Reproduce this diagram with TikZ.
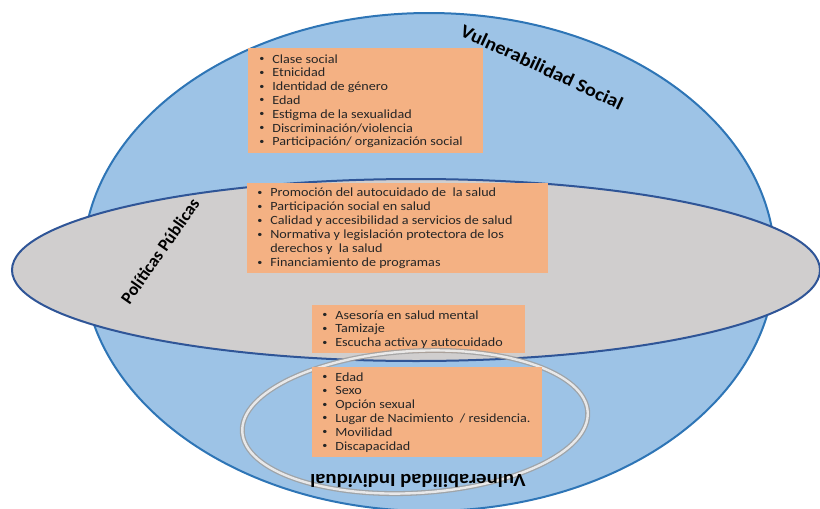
\documentclass[tikz,border=0pt]{standalone}
\usepackage{fontspec}
\setmainfont{Carlito}
\usepackage{graphicx}
\usetikzlibrary{shapes.geometric}
\definecolor{blueF}{HTML}{9DC3E6}
\definecolor{blueD}{HTML}{2E75B6}
\definecolor{grayF}{HTML}{D0CECE}
\definecolor{navyD}{HTML}{2F5597}
\definecolor{orangeF}{HTML}{F4B183}
\definecolor{txt}{HTML}{262626}
\newcommand\bdot{\makebox[12.5pt][l]{\hspace{1pt}\raisebox{0.25ex}{\fontsize{9}{9}\selectfont\textbullet}}}
\newcommand\bitem[1]{\hbox{\bdot#1}}
\newcommand\bcont[1]{\hbox{\makebox[12.5pt][l]{}#1}}
\newcommand\blist[1]{\scalebox{1.13}[1]{\vtop{#1}}}
\tikzset{
  ell/.style={ellipse, inner sep=0pt},
  obox/.style={fill=orangeF, draw=none, inner sep=0pt},
  btext/.style={anchor=base west, inner sep=0pt, text=txt, font=\fontsize{12.5}{13.8}\selectfont},
  title/.style={inner sep=0pt, text=black, font=\bfseries\fontsize{18.5}{20}\selectfont},
}
\begin{document}
\begin{tikzpicture}[x=1pt,y=-1pt]
\path[use as bounding box, clip] (0,0) rectangle (820,509);
% big blue ellipse
\node[ell, fill=blueF, draw=blueD, line width=2pt, minimum width=692pt, minimum height=498pt] (social) at (429,262) {};
% box 1
\node[obox, minimum width=235pt, minimum height=105pt] (b1) at (365.5,100.5) {};
% gray ellipse
\node[ell, fill=grayF, draw=navyD, line width=2pt, minimum width=808pt, minimum height=182pt] (pp) at (416,270) {};
% box 2, box 3
\node[obox, minimum width=301pt, minimum height=90pt] (b2) at (397.5,228) {};
\node[obox, minimum width=213pt, minimum height=48pt] (b3) at (418.5,329) {};
% glass ring
\node[ell, rotate=3.3, draw=gray!75, line width=1.3pt, double=white!92!gray, double distance=2.4pt, opacity=0.85, minimum width=346pt, minimum height=142pt] (ring) at (415,422) {};
% box 4
\node[obox, minimum width=230pt, minimum height=90pt] (b4) at (427,412) {};
% texts
\node[btext] (t1) at (258,63) {\blist{\bitem{Clase social}\bitem{Etnicidad}\bitem{Identidad de género}\bitem{Edad}\bitem{Estigma de la sexualidad}\bitem{Discriminación/violencia}\bitem{Participación/ organización social}}};
\node[btext] (t2) at (256,196.5) {\blist{\baselineskip=14pt\bitem{Promoción del autocuidado de\ \ la salud}\bitem{Participación social en salud}\bitem{Calidad y accesibilidad a servicios de salud}\bitem{Normativa y legislación protectora de los}\bcont{derechos y\ \ la salud}\bitem{Financiamiento de programas}}};
\node[btext] (t3) at (321,319) {\blist{\bitem{Asesoría en salud mental}\bitem{Tamizaje}\bitem{Escucha activa y autocuidado}}};
\node[btext] (t4) at (321,381) {\blist{\bitem{Edad}\bitem{Sexo}\bitem{Opción sexual}\bitem{Lugar de Nacimiento\ \ / residencia.}\bitem{Movilidad}\bitem{Discapacidad}}};
% titles
\node[title, rotate=-25] (tvs) at (542,67) {\scalebox{1.1}[1]{Vulnerabilidad Social}};
\node[title, rotate=55, font=\bfseries\fontsize{17.5}{20}\selectfont] (tpp) at (160,251) {Políticas Públicas};
\node[title, rotate=180] (tvi) at (418,481) {\scalebox{1.12}[1]{Vulnerabilidad Individual}};
\end{tikzpicture}
\end{document}
